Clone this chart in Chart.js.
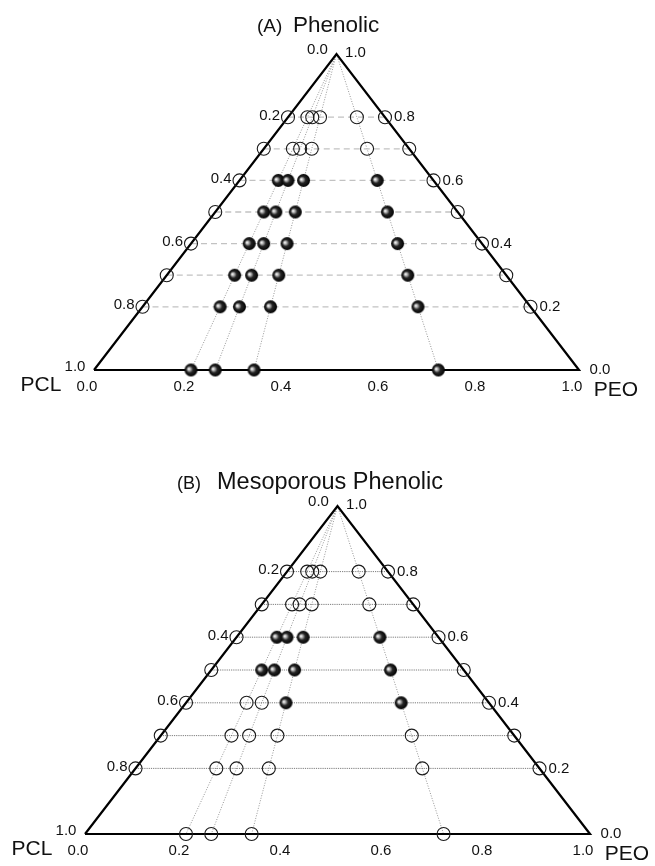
<!DOCTYPE html>
<html>
<head>
<meta charset="utf-8">
<script src="https://cdn.jsdelivr.net/npm/chart.js@4"></script>
<style>
  html, body { margin: 0; padding: 0; background: #fff; }
  #wrap { position: relative; width: 655px; height: 866px; }
  canvas { position: absolute; left: 0; }
  #panelA { top: 0; }
  #panelB { top: 433px; }
</style>
</head>
<body>
<div id="wrap">
  <canvas id="panelA" width="655" height="433"></canvas>
  <canvas id="panelB" width="655" height="433"></canvas>
</div>
<script>
// PEO fraction of each PCL/PEO blend (bottom axis); each blend is a line from the apex
const blendRatios = [0.2, 0.25, 0.33, 0.71];
// level read along the left edge (0 at apex, 1 at the base)
const levels = [0.2, 0.3, 0.4, 0.5, 0.6, 0.7, 0.8, 1.0];
// levels that carry an open circle on both outer edges
const edgeLevels = [0.2, 0.3, 0.4, 0.5, 0.6, 0.7, 0.8];
// 1 = filled sphere, 0 = open circle; rows follow `levels`, columns follow `blendRatios`
const phenolicFilled = [
  [0, 0, 0, 0],
  [0, 0, 0, 0],
  [1, 1, 1, 1],
  [1, 1, 1, 1],
  [1, 1, 1, 1],
  [1, 1, 1, 1],
  [1, 1, 1, 1],
  [1, 1, 1, 1]
];
const mesoFilled = [
  [0, 0, 0, 0],
  [0, 0, 0, 0],
  [1, 1, 1, 1],
  [1, 1, 1, 1],
  [0, 0, 1, 1],
  [0, 0, 0, 0],
  [0, 0, 0, 0],
  [0, 0, 0, 0]
];
// tick labels
const baseTicks = [0.0, 0.2, 0.4, 0.6, 0.8, 1.0];
const sideTicks = [0.2, 0.4, 0.6, 0.8];
const apexLabels = ['0.0', '1.0'];
const cornerLabels = ['1.0', '0.0'];
const componentNames = ['PCL', 'PEO'];
const titleA = ['(A)', 'Phenolic'];
const titleB = ['(B)', 'Mesoporous Phenolic'];

const FONT = '"Liberation Sans", Arial, Helvetica, sans-serif';

// level t and blend ratio b -> plot coordinates (apex at x = 0.5, y = 1)
function toXY(t, b) {
  return { x: 0.5 + t * (b - 0.5), y: 1 - t };
}

function makeSphere(r) {
  const s = Math.ceil(2 * r + 2);
  const c = document.createElement('canvas');
  c.width = s; c.height = s;
  const g = c.getContext('2d');
  const cx = s / 2, cy = s / 2;
  const grad = g.createRadialGradient(cx - 0.38 * r, cy - 0.18 * r, 0.2, cx, cy, r);
  grad.addColorStop(0, '#ffffff');
  grad.addColorStop(0.22, '#b0b0b0');
  grad.addColorStop(0.5, '#262626');
  grad.addColorStop(1, '#000000');
  g.fillStyle = grad;
  g.beginPath();
  g.arc(cx, cy, r, 0, Math.PI * 2);
  g.fill();
  return c;
}

const sphere = makeSphere(6.5);

const ternaryText = {
  id: 'ternaryText',
  afterDatasetsDraw(chart, args, o) {
    const ctx = chart.ctx;
    const xs = chart.scales.x, ys = chart.scales.y;
    const px = p => ({ x: xs.getPixelForValue(p.x), y: ys.getPixelForValue(p.y) });
    ctx.save();
    ctx.fillStyle = '#111';
    ctx.textBaseline = 'middle';

    // title
    ctx.textBaseline = 'alphabetic';
    ctx.textAlign = 'left';
    ctx.font = o.tagSize + 'px ' + FONT;
    ctx.fillText(o.title[0], o.titleX, o.titleY);
    ctx.font = o.titleSize + 'px ' + FONT;
    ctx.fillText(o.title[1], o.titleX2, o.titleY);

    ctx.textBaseline = 'middle';
    ctx.font = '15px ' + FONT;

    // apex labels
    const apex = px({ x: 0.5, y: 1 });
    ctx.textAlign = 'center';
    ctx.fillText(apexLabels[0], apex.x - 19, apex.y - 4);
    ctx.fillText(apexLabels[1], apex.x + 19, apex.y - 1);

    // left / right edge labels
    sideTicks.forEach(t => {
      const l = px(toXY(t, 0));
      const r = px(toXY(t, 1));
      ctx.textAlign = 'right';
      ctx.fillText(t.toFixed(1), l.x - 8, l.y - 1.5);
      ctx.textAlign = 'left';
      ctx.fillText((1 - t).toFixed(1), r.x + 9, r.y);
    });

    // bottom axis labels
    ctx.textAlign = 'center';
    baseTicks.forEach(b => {
      const p = px({ x: b, y: 0 });
      ctx.fillText(b.toFixed(1), p.x - 7, p.y + 16.5);
    });

    // corner labels and component names
    const bl = px({ x: 0, y: 0 }), br = px({ x: 1, y: 0 });
    ctx.fillText(cornerLabels[0], bl.x - 19, bl.y - 3);
    ctx.fillText(cornerLabels[1], br.x + 21, br.y);
    ctx.font = '21px ' + FONT;
    ctx.fillText(componentNames[0], bl.x - 53, bl.y + 15);
    ctx.fillText(componentNames[1], br.x + 37, br.y + 20);
    ctx.restore();
  }
};

function buildDatasets(filled, style) {
  const ds = [];
  const open = [], solid = [];
  levels.forEach((t, i) => {
    blendRatios.forEach((b, j) => {
      (filled[i][j] ? solid : open).push(toXY(t, b));
    });
  });
  edgeLevels.forEach(t => {
    open.push(toXY(t, 0));
    open.push(toXY(t, 1));
  });

  ds.push({
    data: solid, order: 0, clip: false,
    pointStyle: sphere, pointRadius: 6.5, pointHoverRadius: 6.5,
    backgroundColor: '#000', borderWidth: 0, showLine: false
  });
  ds.push({
    data: open, order: 1, clip: false,
    pointStyle: 'circle', pointRadius: 6.5, pointHoverRadius: 6.5,
    backgroundColor: 'rgba(0,0,0,0)', borderColor: '#1a1a1a', borderWidth: 1.1,
    showLine: false
  });
  // triangle outline
  ds.push({
    data: [{ x: 0, y: 0 }, { x: 0.5, y: 1 }, { x: 1, y: 0 }, { x: 0, y: 0 }],
    order: 2, clip: false, showLine: true, pointRadius: 0,
    borderColor: '#000', borderWidth: 2.2, fill: false, tension: 0
  });
  // constant-level rows
  edgeLevels.forEach(t => {
    ds.push({
      data: [toXY(t, 0), toXY(t, 1)],
      order: 3, clip: false, showLine: true, pointRadius: 0,
      borderColor: style.rowColor, borderWidth: style.rowWidth,
      borderDash: style.rowDash, fill: false
    });
  });
  // blend lines from the apex to the base
  blendRatios.forEach(b => {
    ds.push({
      data: [toXY(0, b), toXY(1, b)],
      order: 4, clip: false, showLine: true, pointRadius: 0,
      borderColor: '#7c7c7c', borderWidth: 0.8, borderDash: [1, 1.6], fill: false
    });
  });
  return ds;
}

function makeChart(id, filled, style, padding, text) {
  return new Chart(document.getElementById(id), {
    type: 'scatter',
    data: { datasets: buildDatasets(filled, style) },
    options: {
      responsive: false,
      animation: false,
      devicePixelRatio: 1,
      layout: { padding: padding },
      scales: {
        x: { type: 'linear', min: 0, max: 1, display: false },
        y: { type: 'linear', min: 0, max: 1, display: false }
      },
      plugins: {
        legend: { display: false },
        tooltip: { enabled: false },
        ternaryText: text
      },
      events: []
    },
    plugins: [ternaryText]
  });
}

makeChart('panelA', phenolicFilled,
  { rowColor: '#c2c2c2', rowWidth: 1.3, rowDash: [6, 4] },
  { left: 94, right: 76, top: 54, bottom: 63 },
  { title: titleA, titleX: 257, titleX2: 293, titleY: 32, tagSize: 19, titleSize: 22.5 });

makeChart('panelB', mesoFilled,
  { rowColor: '#5a5a5a', rowWidth: 0.8, rowDash: [1.2, 1] },
  { left: 85, right: 65, top: 73, bottom: 32 },
  { title: titleB, titleX: 177, titleX2: 217, titleY: 56, tagSize: 18, titleSize: 23.5 });
</script>
</body>
</html>
